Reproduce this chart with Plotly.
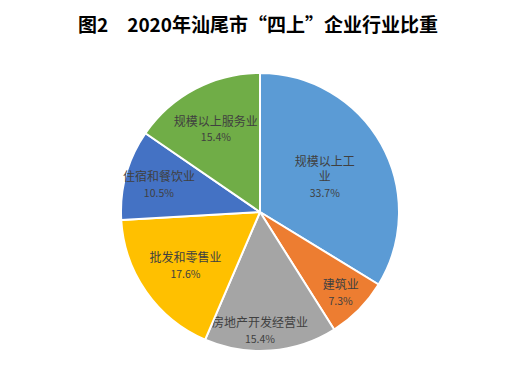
import plotly.graph_objects as go

categories = ["规模以上工业", "建筑业", "房地产开发经营业", "批发和零售业", "住宿和餐饮业", "规模以上服务业"]
display_labels = ["规模以上工<br>业", "建筑业", "房地产开发经营业", "批发和零售业", "住宿和餐饮业", "规模以上服务业"]
shares = [33.7, 7.3, 15.4, 17.6, 10.5, 15.4]
colors = ["#5B9BD5", "#ED7D31", "#A5A5A5", "#FFC000", "#4472C4", "#70AD47"]

# page has an 8px body margin; plot area coordinates are page minus 8
W, H = 504, 383
fig = go.Figure(go.Pie(
    labels=categories,
    values=shares,
    customdata=display_labels,
    sort=False,
    direction="clockwise",
    rotation=0,
    marker=dict(colors=colors, line=dict(color="white", width=2)),
    texttemplate="%{customdata}<br><span style='font-size:10.5px'>%{value:.1f}%</span>",
    textposition="inside",
    insidetextorientation="horizontal",
    textfont=dict(family="Noto Sans CJK SC", size=12, color="#404040"),
    hoverinfo="label+value",
    domain=dict(x=[113 / W, 391 / W], y=[1 - 343 / H, 1 - 65 / H]),
    showlegend=False,
))

fig.update_layout(
    width=W, height=H,
    margin=dict(l=0, r=0, t=0, b=0),
    paper_bgcolor="white",
    uniformtext=dict(minsize=12, mode="show"),
    title=dict(text="<b>图2　2020年汕尾市“四上”企业行业比重</b>",
               x=250 / W, xanchor="center", y=1 - 17 / H, yanchor="middle",
               font=dict(family="Noto Sans CJK SC", size=19, color="#000000")),
)

fig.write_html("out.html")
